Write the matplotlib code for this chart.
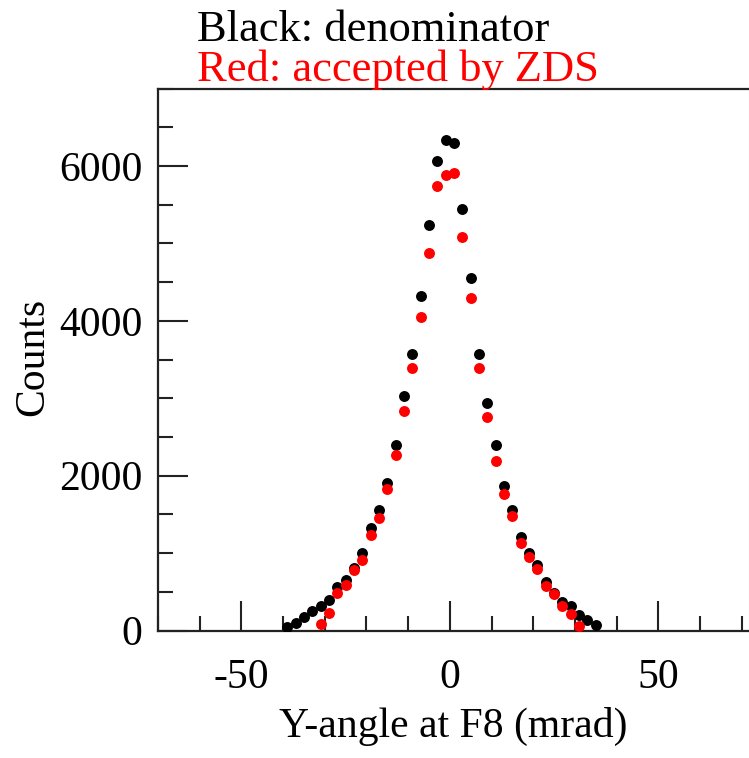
import numpy as np
import matplotlib
matplotlib.use("Agg")
import matplotlib.pyplot as plt
from matplotlib.ticker import MultipleLocator

# --- data (bin centres in mrad, counts) ---
x_black = np.arange(-39, 36, 2)
y_black = [45, 95, 170, 250, 315, 400, 560, 650, 810, 1000,
           1325, 1560, 1910, 2400, 3025, 3575, 4320, 5235, 6070, 6330,
           6290, 5440, 4555, 3570, 2935, 2390, 1870, 1560, 1210, 1000,
           850, 630, 485, 370, 315, 195, 130, 70]

x_red = np.arange(-31, 32, 2)
y_red = [80, 230, 485, 585, 780, 910, 1235, 1450, 1830, 2265,
         2835, 3385, 4055, 4875, 5745, 5885, 5905, 5085, 4300, 3385,
         2760, 2195, 1760, 1480, 1135, 945, 790, 575, 470, 315,
         215, 55]

plt.rcParams['font.family'] = ['Liberation Serif', 'DejaVu Serif']
plt.rcParams['axes.unicode_minus'] = False

W, H = 749, 758
fig = plt.figure(figsize=(W / 100, H / 100), dpi=100)
ax = fig.add_axes([158 / W, 1 - 630.5 / H, 1 - 158 / W, (630.5 - 88.5) / H])

ax.scatter(x_black, y_black, s=62, color='black', linewidths=0, zorder=3)
ax.scatter(x_red, y_red, s=62, color='#ff0000', linewidths=0, zorder=4)

ax.set_xlim(-70, 71.75)
ax.set_ylim(0, 7000)

ax.xaxis.set_major_locator(MultipleLocator(50))
ax.xaxis.set_minor_locator(MultipleLocator(10))
ax.yaxis.set_major_locator(MultipleLocator(2000))
ax.yaxis.set_minor_locator(MultipleLocator(500))

ax.tick_params(which='both', direction='in', top=False, right=False,
               width=1.5, color='#222222', labelsize=30)
ax.tick_params(which='major', length=21.5)
ax.tick_params(which='minor', length=10.8)
ax.tick_params(axis='x', which='major', pad=20)
ax.tick_params(axis='y', which='major', pad=11)

for side in ['left', 'bottom', 'top']:
    ax.spines[side].set_linewidth(1.6)
    ax.spines[side].set_color('#222222')
ax.spines['right'].set_linewidth(0.8)
ax.spines['right'].set_color('#cccccc')

# labels and the two-colour title
fig.text(453 / W, 1 - 737 / H, 'Y-angle at F8 (mrad)', fontsize=30,
         ha='center', va='baseline')
fig.text(33 / W, 1 - 357 / H, 'Counts', fontsize=30, rotation=90,
         ha='center', va='center')
fig.text(197 / W, 1 - 41 / H, 'Black: denominator', fontsize=32,
         color='black', ha='left', va='baseline')
fig.text(197 / W, 1 - 81 / H, 'Red: accepted by ZDS', fontsize=32,
         color='#ff0000', ha='left', va='baseline')

fig.savefig('out.png', dpi=100)
